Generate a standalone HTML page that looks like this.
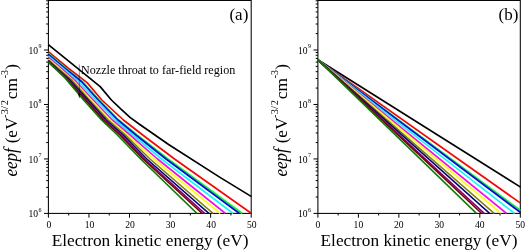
<!DOCTYPE html>
<html><head><meta charset="utf-8"><title>eepf</title>
<style>html,body{margin:0;padding:0;background:#fff}body{width:525px;height:250px;overflow:hidden}</style></head>
<body>
<svg width="525" height="250" viewBox="0 0 525 250" style="display:block;will-change:transform">
<rect width="525" height="250" fill="#fff"/>
<rect x="48.4" y="0.45" width="202.79999999999998" height="212.95000000000002" fill="none" stroke="#000" stroke-width="1.05"/>
<clipPath id="ca"><rect x="47.85" y="0.45" width="203.89999999999998" height="213.50000000000003"/></clipPath>
<g clip-path="url(#ca)" fill="none" stroke-width="1.65" stroke-linejoin="round">
<polyline points="48.30,44.60 100.20,86.60 111.40,100.00 121.00,109.20 130.00,117.40 139.80,124.50 168.60,144.50 220.00,177.40 251.50,196.60" stroke="#000"/>
<polyline points="48.30,51.60 68.00,68.00 87.10,82.60 101.80,100.00 123.40,120.00 142.70,135.00 174.50,159.00 251.50,213.50" stroke="#ff0000"/>
<polyline points="48.30,53.30 65.40,68.00 83.20,82.20 99.20,100.00 118.80,120.00 137.10,135.00 168.00,159.00 242.20,213.50" stroke="#00ff00"/>
<polyline points="48.30,54.40 64.40,68.00 81.90,82.00 98.20,100.00 117.80,120.00 135.80,135.00 166.00,159.00 239.40,213.50" stroke="#0000ff"/>
<polyline points="48.30,56.00 62.60,68.00 78.70,81.60 95.80,100.00 115.00,120.00 132.90,135.00 161.50,159.00 233.10,213.50" stroke="#00ffff"/>
<polyline points="48.30,57.40 60.80,68.00 75.70,81.20 93.20,100.00 112.20,120.00 130.00,135.00 157.50,159.00 225.40,213.50" stroke="#ff00ff"/>
<polyline points="48.30,58.80 59.20,68.00 73.00,80.40 91.20,100.00 110.20,120.00 127.60,135.00 153.80,159.00 220.30,213.50" stroke="#ffff00"/>
<polyline points="48.30,59.80 57.80,68.00 71.50,79.80 89.40,100.00 108.20,120.00 125.40,135.00 150.00,159.00 213.20,213.50" stroke="#808000"/>
<polyline points="48.30,60.60 56.40,68.00 68.90,79.00 88.10,100.00 106.20,120.00 123.30,135.00 146.80,159.00 209.10,213.50" stroke="#000080"/>
<polyline points="48.30,61.20 55.50,68.00 66.70,78.20 86.40,100.00 104.40,120.00 121.40,135.00 144.50,159.00 204.80,213.50" stroke="#800080"/>
<polyline points="48.30,61.80 54.80,68.00 65.20,77.40 85.40,100.00 103.20,120.00 119.90,135.00 143.00,159.00 202.30,213.50" stroke="#800000"/>
<polyline points="48.30,62.20 54.50,68.00 64.00,76.80 83.60,100.00 101.60,120.00 117.40,135.00 140.70,159.00 197.10,213.50" stroke="#008000"/>
</g>
<path d="M48.40,213.4v4.3 M68.68,213.4v2.1 M88.96,213.4v4.3 M109.24,213.4v2.1 M129.52,213.4v4.3 M149.80,213.4v2.1 M170.08,213.4v4.3 M190.36,213.4v2.1 M210.64,213.4v4.3 M230.92,213.4v2.1 M251.20,213.4v4.3 M48.4,213.41h-4.4 M48.4,197.01h-2.2 M48.4,187.42h-2.2 M48.4,180.62h-2.2 M48.4,175.34h-2.2 M48.4,171.02h-2.2 M48.4,167.38h-2.2 M48.4,164.22h-2.2 M48.4,161.43h-2.2 M48.4,158.94h-4.4 M48.4,142.54h-2.2 M48.4,132.95h-2.2 M48.4,126.15h-2.2 M48.4,120.87h-2.2 M48.4,116.55h-2.2 M48.4,112.91h-2.2 M48.4,109.75h-2.2 M48.4,106.96h-2.2 M48.4,104.47h-4.4 M48.4,88.07h-2.2 M48.4,78.48h-2.2 M48.4,71.68h-2.2 M48.4,66.40h-2.2 M48.4,62.08h-2.2 M48.4,58.44h-2.2 M48.4,55.28h-2.2 M48.4,52.49h-2.2 M48.4,50.00h-4.4 M48.4,33.60h-2.2 M48.4,24.01h-2.2 M48.4,17.21h-2.2 M48.4,11.93h-2.2 M48.4,7.61h-2.2 M48.4,3.97h-2.2 M48.4,0.81h-2.2" stroke="#000" stroke-width="1.0" fill="none"/>
<g font-family="'Liberation Serif', serif" font-size="9.6" fill="#000">
<text x="48.90" y="228.4" text-anchor="middle">0</text>
<text x="89.46" y="228.4" text-anchor="middle">10</text>
<text x="130.02" y="228.4" text-anchor="middle">20</text>
<text x="170.58" y="228.4" text-anchor="middle">30</text>
<text x="211.14" y="228.4" text-anchor="middle">40</text>
<text x="251.70" y="228.4" text-anchor="middle">50</text>
<text x="38.00" y="217.31" text-anchor="end">10</text>
<text x="38.50" y="211.61" font-size="6.0">6</text>
<text x="38.00" y="162.84" text-anchor="end">10</text>
<text x="38.50" y="157.14" font-size="6.0">7</text>
<text x="38.00" y="108.37" text-anchor="end">10</text>
<text x="38.50" y="102.67" font-size="6.0">8</text>
<text x="38.00" y="53.90" text-anchor="end">10</text>
<text x="38.50" y="48.20" font-size="6.0">9</text>
</g>
<text x="150.10" y="246.4" text-anchor="middle" font-family="'Liberation Serif', serif" font-size="17.3" fill="#000">Electron kinetic energy (eV)</text>
<text transform="translate(17.30,176.50) rotate(-90) scale(1,1.12)" font-family="'Liberation Serif', serif" fill="#000" font-size="17.0" font-style="italic">eepf</text>
<text transform="translate(16.90,143.30) rotate(-90)" font-family="'Liberation Serif', serif" fill="#000" font-size="17.3" >(</text>
<text transform="translate(16.90,137.70) rotate(-90)" font-family="'Liberation Serif', serif" fill="#000" font-size="17.3" >e</text>
<text transform="translate(16.90,129.80) rotate(-90)" font-family="'Liberation Serif', serif" fill="#000" font-size="17.3" >V</text>
<text transform="translate(8.30,118.00) rotate(-90)" font-family="'Liberation Serif', serif" fill="#000" font-size="10.4" >-</text>
<text transform="translate(8.30,114.20) rotate(-90)" font-family="'Liberation Serif', serif" fill="#000" font-size="10.4" >3/</text>
<text transform="translate(8.30,105.20) rotate(-90)" font-family="'Liberation Serif', serif" fill="#000" font-size="10.4" >2</text>
<text transform="translate(16.90,99.20) rotate(-90)" font-family="'Liberation Serif', serif" fill="#000" font-size="17.3" >cm</text>
<text transform="translate(8.30,78.30) rotate(-90)" font-family="'Liberation Serif', serif" fill="#000" font-size="10.0" >-3</text>
<text transform="translate(16.90,69.70) rotate(-90)" font-family="'Liberation Serif', serif" fill="#000" font-size="17.3" >)</text>
<rect x="317.9" y="0.45" width="202.39999999999998" height="212.95000000000002" fill="none" stroke="#000" stroke-width="1.05"/>
<clipPath id="cb"><rect x="317.34999999999997" y="0.45" width="203.49999999999997" height="213.50000000000003"/></clipPath>
<g clip-path="url(#cb)" fill="none" stroke-width="1.65" stroke-linejoin="round">
<polyline points="317.90,59.80 520.60,187.10" stroke="#000"/>
<polyline points="317.90,59.80 520.60,203.20" stroke="#ff0000"/>
<polyline points="317.90,59.80 520.60,210.60" stroke="#00ff00"/>
<polyline points="317.90,59.80 520.60,212.60" stroke="#0000ff"/>
<polyline points="317.90,59.80 514.60,213.50" stroke="#00ffff"/>
<polyline points="317.90,59.80 506.60,213.50" stroke="#ff00ff"/>
<polyline points="317.90,59.80 501.20,213.50" stroke="#ffff00"/>
<polyline points="317.90,59.80 494.40,213.50" stroke="#808000"/>
<polyline points="317.90,59.80 489.80,213.50" stroke="#000080"/>
<polyline points="317.90,59.80 484.40,213.50" stroke="#800080"/>
<polyline points="317.90,59.80 481.80,213.50" stroke="#800000"/>
<polyline points="317.90,59.80 476.60,213.50" stroke="#008000"/>
</g>
<path d="M317.90,213.4v4.3 M338.14,213.4v2.1 M358.38,213.4v4.3 M378.62,213.4v2.1 M398.86,213.4v4.3 M419.10,213.4v2.1 M439.34,213.4v4.3 M459.58,213.4v2.1 M479.82,213.4v4.3 M500.06,213.4v2.1 M520.30,213.4v4.3 M317.9,213.41h-4.4 M317.9,197.01h-2.2 M317.9,187.42h-2.2 M317.9,180.62h-2.2 M317.9,175.34h-2.2 M317.9,171.02h-2.2 M317.9,167.38h-2.2 M317.9,164.22h-2.2 M317.9,161.43h-2.2 M317.9,158.94h-4.4 M317.9,142.54h-2.2 M317.9,132.95h-2.2 M317.9,126.15h-2.2 M317.9,120.87h-2.2 M317.9,116.55h-2.2 M317.9,112.91h-2.2 M317.9,109.75h-2.2 M317.9,106.96h-2.2 M317.9,104.47h-4.4 M317.9,88.07h-2.2 M317.9,78.48h-2.2 M317.9,71.68h-2.2 M317.9,66.40h-2.2 M317.9,62.08h-2.2 M317.9,58.44h-2.2 M317.9,55.28h-2.2 M317.9,52.49h-2.2 M317.9,50.00h-4.4 M317.9,33.60h-2.2 M317.9,24.01h-2.2 M317.9,17.21h-2.2 M317.9,11.93h-2.2 M317.9,7.61h-2.2 M317.9,3.97h-2.2 M317.9,0.81h-2.2" stroke="#000" stroke-width="1.0" fill="none"/>
<g font-family="'Liberation Serif', serif" font-size="9.6" fill="#000">
<text x="317.90" y="228.4" text-anchor="middle">0</text>
<text x="358.38" y="228.4" text-anchor="middle">10</text>
<text x="398.86" y="228.4" text-anchor="middle">20</text>
<text x="439.34" y="228.4" text-anchor="middle">30</text>
<text x="479.82" y="228.4" text-anchor="middle">40</text>
<text x="520.30" y="228.4" text-anchor="middle">50</text>
<text x="307.50" y="217.31" text-anchor="end">10</text>
<text x="308.00" y="211.61" font-size="6.0">6</text>
<text x="307.50" y="162.84" text-anchor="end">10</text>
<text x="308.00" y="157.14" font-size="6.0">7</text>
<text x="307.50" y="108.37" text-anchor="end">10</text>
<text x="308.00" y="102.67" font-size="6.0">8</text>
<text x="307.50" y="53.90" text-anchor="end">10</text>
<text x="308.00" y="48.20" font-size="6.0">9</text>
</g>
<text x="419.00" y="246.4" text-anchor="middle" font-family="'Liberation Serif', serif" font-size="17.3" fill="#000">Electron kinetic energy (eV)</text>
<text transform="translate(287.30,176.50) rotate(-90) scale(1,1.12)" font-family="'Liberation Serif', serif" fill="#000" font-size="17.0" font-style="italic">eepf</text>
<text transform="translate(286.90,143.30) rotate(-90)" font-family="'Liberation Serif', serif" fill="#000" font-size="17.3" >(</text>
<text transform="translate(286.90,137.70) rotate(-90)" font-family="'Liberation Serif', serif" fill="#000" font-size="17.3" >e</text>
<text transform="translate(286.90,129.80) rotate(-90)" font-family="'Liberation Serif', serif" fill="#000" font-size="17.3" >V</text>
<text transform="translate(278.30,118.00) rotate(-90)" font-family="'Liberation Serif', serif" fill="#000" font-size="10.4" >-</text>
<text transform="translate(278.30,114.20) rotate(-90)" font-family="'Liberation Serif', serif" fill="#000" font-size="10.4" >3/</text>
<text transform="translate(278.30,105.20) rotate(-90)" font-family="'Liberation Serif', serif" fill="#000" font-size="10.4" >2</text>
<text transform="translate(286.90,99.20) rotate(-90)" font-family="'Liberation Serif', serif" fill="#000" font-size="17.3" >cm</text>
<text transform="translate(278.30,78.30) rotate(-90)" font-family="'Liberation Serif', serif" fill="#000" font-size="10.0" >-3</text>
<text transform="translate(286.90,69.70) rotate(-90)" font-family="'Liberation Serif', serif" fill="#000" font-size="17.3" >)</text>
<text x="248.3" y="19.5" text-anchor="end" font-family="'Liberation Serif', serif" font-size="17" fill="#000">(a)</text>
<text x="518.3" y="19.5" text-anchor="end" font-family="'Liberation Serif', serif" font-size="17" fill="#000">(b)</text>
<text x="81" y="74" font-family="'Liberation Serif', serif" font-size="12.1" fill="#000">Nozzle throat to far-field region</text>
<path d="M79.3,64.5V95" stroke="#000" stroke-width="0.45" fill="none"/>
<path d="M79.3,98.4l-1.2,-5h2.4z" fill="#000"/>
</svg>
</body></html>
